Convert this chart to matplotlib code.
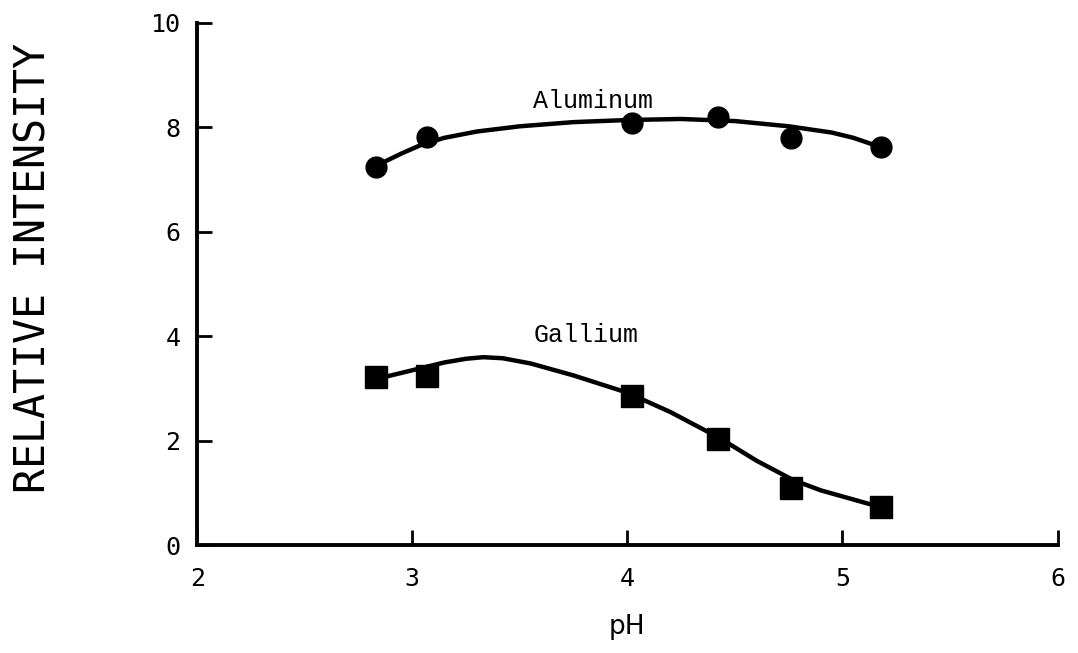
import matplotlib
matplotlib.use("Agg")
import matplotlib.pyplot as plt

# Measured points
ph_points = [2.83, 3.07, 4.02, 4.42, 4.76, 5.18]
aluminum = [7.24, 7.81, 8.08, 8.19, 7.79, 7.62]
gallium = [3.22, 3.24, 2.86, 2.04, 1.09, 0.74]

# Drawn smooth curves
al_curve_x = [2.85, 2.95, 3.05, 3.15, 3.3, 3.5, 3.75, 4.0, 4.25, 4.5, 4.75, 4.95, 5.05, 5.15]
al_curve_y = [7.3, 7.5, 7.68, 7.8, 7.92, 8.02, 8.1, 8.14, 8.16, 8.12, 8.02, 7.9, 7.8, 7.66]
ga_curve_x = [2.85, 2.95, 3.05, 3.15, 3.25, 3.33, 3.42, 3.55, 3.75, 4.0, 4.2, 4.43, 4.6, 4.77, 4.9, 5.03, 5.15]
ga_curve_y = [3.2, 3.3, 3.4, 3.5, 3.57, 3.6, 3.58, 3.48, 3.25, 2.92, 2.55, 2.05, 1.62, 1.25, 1.05, 0.9, 0.76]

x_ticks = [2, 3, 4, 5, 6]
y_ticks = [0, 2, 4, 6, 8, 10]

fig = plt.figure(figsize=(10.78, 6.53), dpi=100)
ax = fig.add_axes([0.183, 0.165, 0.798, 0.80])

ax.plot(al_curve_x, al_curve_y, color="black", lw=3.2, solid_capstyle="round", solid_joinstyle="round")
ax.plot(ga_curve_x, ga_curve_y, color="black", lw=3.2, solid_capstyle="round", solid_joinstyle="round")
ax.plot(ph_points, aluminum, "o", color="black", ms=15, zorder=3)
ax.plot(ph_points, gallium, "s", color="black", ms=16, zorder=3)

ax.text(3.84, 8.5, "Aluminum", family="Liberation Mono", fontsize=18, ha="center", va="center")
ax.text(3.81, 4.02, "Gallium", family="Liberation Mono", fontsize=18, ha="center", va="center")

ax.set_xlim(2, 6)
ax.set_ylim(0, 10)
ax.set_xticks(x_ticks)
ax.set_yticks(y_ticks)
ax.set_xticklabels([str(v) for v in x_ticks], family="DejaVu Sans Mono", fontsize=18)
ax.set_yticklabels([str(v) for v in y_ticks], family="DejaVu Sans Mono", fontsize=18)
ax.tick_params(axis="x", direction="in", length=11, width=2, pad=16)
ax.tick_params(axis="y", direction="in", length=11, width=2, pad=12)

for s in ["top", "right"]:
    ax.spines[s].set_visible(False)
for s in ["left", "bottom"]:
    ax.spines[s].set_linewidth(2.8)

ax.set_xlabel("pH", family="DejaVu Sans", fontsize=19, labelpad=16)
ax.set_ylabel("RELATIVE INTENSITY", family="DejaVu Sans Mono", fontsize=30)
ax.yaxis.set_label_coords(-0.166, 0.53)

fig.savefig("out.png", dpi=100)
